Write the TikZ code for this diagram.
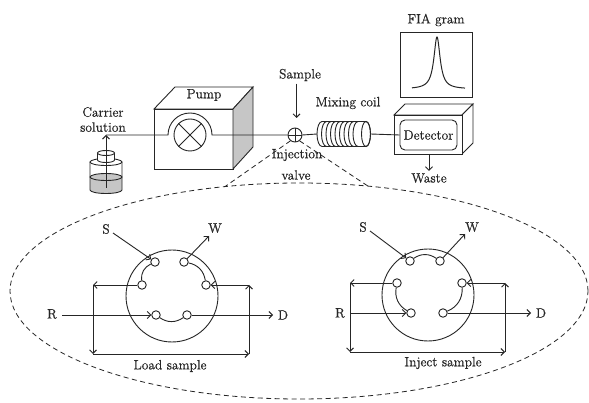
\documentclass[tikz,border=0pt]{standalone}
\usepackage{fontspec}
\setmainfont{Latin Modern Roman}[UprightFeatures={FakeBold=0.6}]
\usetikzlibrary{arrows.meta}
\begin{document}
\begin{tikzpicture}[x=1pt,y=-1pt,line width=0.9pt,color=black!85,
  lbl/.style={font=\fontsize{13.5}{15}\selectfont,inner sep=0pt},
  arr/.style={-{Straight Barb[length=3.5pt,width=7pt]}},
  port/.style={circle,draw,fill=white,minimum size=8.5pt,inner sep=0pt},
  body/.style={circle,draw,minimum size=92pt,inner sep=0pt},
  callout/.style={dash pattern=on 5pt off 3.5pt,line width=0.8pt},
  shade/.style={fill=gray!45}]
\useasboundingbox[fill=white] (0,0) rectangle (589,403);

% ---------- carrier bottle ----------
\fill[shade] (90,177) -- (90,190) arc[start angle=180,end angle=360,x radius=16pt,y radius=3.5pt]
  -- (122,177) arc[start angle=0,end angle=180,x radius=16pt,y radius=3.5pt] -- cycle;
\draw (90,162) -- (90,190) arc[start angle=180,end angle=360,x radius=16pt,y radius=3.5pt] -- (122,162);
\draw (106,162) ellipse[x radius=16pt,y radius=3.5pt];
\draw (106,177) ellipse[x radius=16pt,y radius=3.5pt];
\fill[white] (97.5,153) -- (97.5,160) arc[start angle=180,end angle=360,x radius=8.5pt,y radius=2.5pt] -- (114.5,153) -- cycle;
\draw (97.5,153) -- (97.5,160) arc[start angle=180,end angle=360,x radius=8.5pt,y radius=2.5pt] -- (114.5,153);
\draw[fill=white] (106,153) ellipse[x radius=8.5pt,y radius=2.5pt];
\coordinate (bottle) at (106,188);
\coordinate (carrier) at (106,135);
\draw[arr] (bottle) -- (carrier);
\node[lbl,align=center] (carrl) at (103,119.5) {Carrier\\solution};

% ---------- pump ----------
\draw[fill=white] (154,109) rectangle (233,169);
\draw[fill=white] (154,109) -- (175,87) -- (253,87) -- (233,109) -- cycle;
\draw[shade] (233,109) -- (253,87) -- (253,147) -- (233,169) -- cycle;
\node[circle,draw,minimum size=32pt,inner sep=0pt] (pw) at (190,135) {};
\draw (pw.45) -- (pw.225) (pw.135) -- (pw.-45);
\node[lbl] (pumpl) at (204,95) {Pump};

% ---------- injection valve ----------
\node[circle,draw,fill=white,minimum size=14pt,inner sep=0pt] (valve) at (295,135) {};
\draw (valve.north) -- (valve.south) (valve.west) -- (valve.east);
\draw (carrier) -- (168,135) arc[start angle=180,end angle=0,radius=22pt] -- (valve.west);
\node[lbl] (sampl) at (300,75) {Sample};
\coordinate (sIn) at (296.5,118);
\draw[arr] ([yshift=-2pt]sIn |- sampl.south) -- (sIn);
\node[lbl] (injl) at (297,155) {Injection};
\node[lbl] (valvel) at (296,175) {valve};

% ---------- mixing coil ----------
\coordinate (coilL) at (317,134);
\coordinate (coilR) at (370.5,134);
\draw[fill=white] (322,121.5) -- (366,121.5) arc[start angle=90,end angle=-90,x radius=4.5pt,y radius=12.5pt]
  -- (322,146.5) arc[start angle=270,end angle=90,x radius=5pt,y radius=12.5pt] -- cycle;
\foreach \k in {1,...,8}
  \draw ({322+4.5*\k},121.5) arc[start angle=90,end angle=270,x radius=5pt,y radius=12.5pt];
\draw (366,134) ellipse[x radius=4.5pt,y radius=12.5pt];
\node[lbl] (coill) at (348,103) {Mixing coil};
\draw (valve.east) -- (coilL);

% ---------- detector ----------
\draw[fill=white] (394,115) -- (405,104) -- (473,104) -- (462,115) -- cycle;
\draw[fill=white] (462,115) -- (473,104) -- (473,143) -- (462,154) -- cycle;
\draw[fill=white] (394,115) rectangle (462,154);
\node[lbl,draw,rounded corners=5pt,minimum width=57pt,minimum height=30pt] (det) at (428.5,135) {Detector};
\draw (coilR) -- (det.west);
\coordinate (detBase) at (429,154);
\node[lbl] (wastel) at (429,178) {Waste};
\draw[arr] (detBase) -- ([yshift=2pt]wastel.north);

% ---------- FIA gram ----------
\node[lbl] (fial) at (436,20) {FIA gram};
\draw (400,32) rectangle (472,97);
\draw[line width=1pt] plot[domain=412:465,samples=160,smooth] (\x,{89-52/(1+((\x-437)/3.8)^2)});

% ---------- magnified valve outline ----------
\coordinate (cL) at (225,186.6);
\coordinate (cR) at (368,186.1);
\draw[callout] (valve.232) -- (cL);
\draw[callout] (valve.-52) -- (cR);
\draw[callout] (299,291) ellipse[x radius=289pt,y radius=108pt];

% ---------- load position ----------
\node[body] (lbody) at (172,296) {};
\node[port] (lTL) at (155,262) {};
\node[port] (lTR) at (184,262) {};
\node[port] (lML) at (142,285) {};
\node[port] (lMR) at (206,285) {};
\node[port] (lBL) at (156,315) {};
\node[port] (lBR) at (187,315) {};
\draw (lTL) to[bend right=35] (lML);
\draw (lTR) to[bend left=35] (lMR);
\draw (lBL) to[bend right=35] (lBR);
\node[lbl] (lSl) at (106,229) {S};
\coordinate (lSs) at (113,233);
\draw[arr] (lSs) -- (lTL);
\coordinate (lWe) at (209,236);
\draw[arr] (lTR) -- (lWe);
\node[lbl] (lWl) at (215,228) {W};
\node[lbl] (lRl) at (52,314) {R};
\coordinate (lRs) at (62,315);
\draw[arr] (lRs) -- (lBL);
\coordinate (lDe) at (273,315);
\draw[arr] (lBR) -- (lDe);
\node[lbl] (lDl) at (283,315) {D};
\coordinate (lc1) at (93,285);
\coordinate (lc2) at (93,354);
\coordinate (lc3) at (249,354);
\coordinate (lc4) at (249,285);
\draw[arr] (lML) -- (lc1);
\draw[arr] (lc1) -- (lc2);
\draw[arr] (lc2) -- (lc3);
\draw[arr] (lc3) -- (lc4);
\draw[arr] (lc4) -- (lMR);
\node[lbl] (loadl) at (170,366) {Load sample};

% ---------- inject position ----------
\node[body] (rbody) at (428,295) {};
\node[port] (rTL) at (410,261) {};
\node[port] (rTR) at (440,261) {};
\node[port] (rML) at (397,283) {};
\node[port] (rMR) at (462,283) {};
\node[port] (rBL) at (411,313) {};
\node[port] (rBR) at (443,313) {};
\draw (rTL) to[bend left=35] (rTR);
\draw (rML) to[bend right=35] (rBL);
\draw (rMR) to[bend left=35] (rBR);
\node[lbl] (rSl) at (363,227) {S};
\coordinate (rSs) at (370,231);
\draw[arr] (rSs) -- (rTL);
\coordinate (rWe) at (465,234);
\draw[arr] (rTR) -- (rWe);
\node[lbl] (rWl) at (472,227) {W};
\node[lbl] (rRl) at (340,313) {R};
\coordinate (rRs) at (350,313);
\draw[arr] (rRs) -- (rBL);
\coordinate (rDe) at (531,313);
\draw[arr] (rBR) -- (rDe);
\node[lbl] (rDl) at (541,313) {D};
\coordinate (rc1) at (350,283);
\coordinate (rc2) at (350,352);
\coordinate (rc3) at (505,352);
\coordinate (rc4) at (505,283);
\draw[arr] (rML) -- (rc1);
\draw[arr] (rc1) -- (rc2);
\draw[arr] (rc2) -- (rc3);
\draw[arr] (rc3) -- (rc4);
\draw[arr] (rc4) -- (rMR);
\node[lbl] (injectl) at (443,363) {Inject sample};
\end{tikzpicture}
\end{document}
